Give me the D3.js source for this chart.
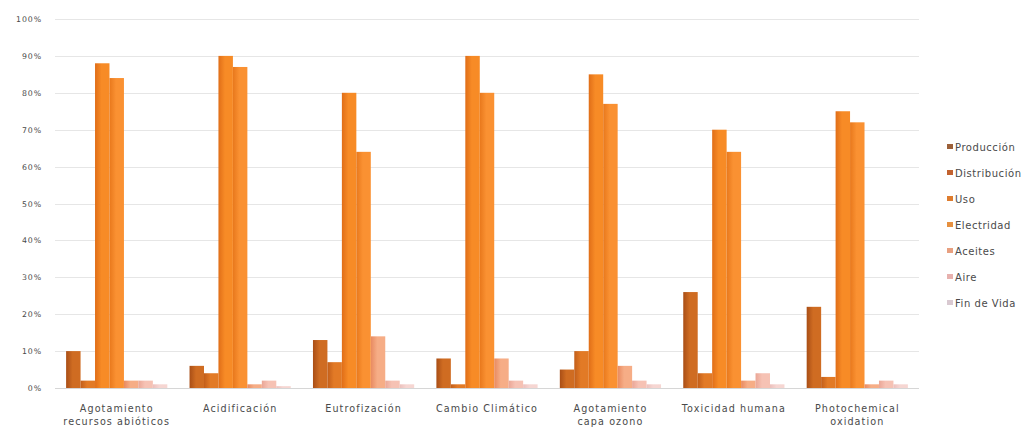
<!DOCTYPE html>
<html>
<head>
<meta charset="utf-8">
<script src="https://cdn.jsdelivr.net/npm/d3@7"></script>
<style>
  html, body { margin: 0; padding: 0; background: #ffffff; }
  svg { display: block; }
  text { font-family: "DejaVu Sans", sans-serif; fill: #4a4a4a; }
</style>
</head>
<body>
<svg id="chart" width="1032" height="436"></svg>
<script>
// Impact categories (x axis), with line breaks for the two-line labels
const categories = [
  "Agotamiento\nrecursos abióticos",
  "Acidificación",
  "Eutrofización",
  "Cambio Climático",
  "Agotamiento\ncapa ozono",
  "Toxicidad humana",
  "Photochemical\noxidation"
];

// Life-cycle stages (series)
const seriesNames = ["Producción", "Distribución", "Uso", "Electridad", "Aceites", "Aire", "Fin de Vida"];

// Share of each impact per stage, in percent
const produccion   = [10,  6, 13,  8,  5, 26, 22];
const distribucion = [ 2,  4,  7,  1, 10,  4,  3];
const uso          = [88, 90, 80, 90, 85, 70, 75];
const electridad   = [84, 87, 64, 80, 77, 64, 72];
const aceites      = [ 2,  1, 14,  8,  6,  2,  1];
const aire         = [ 2,  2,  2,  2,  2,  4,  2];
const finDeVida    = [ 1,  0.5, 1, 1,  1,  1,  1];

const yTicks = [0, 10, 20, 30, 40, 50, 60, 70, 80, 90, 100];

const seriesValues = [produccion, distribucion, uso, electridad, aceites, aire, finDeVida];

// Fill tones per stage: dark edge, light centre
const barTones = [
  ["#a94e16", "#cf6c22"],
  ["#c25e1a", "#e27a26"],
  ["#e06e18", "#f78b26"],
  ["#e8781c", "#fa9132"],
  ["#e88a60", "#f6ad86"],
  ["#eaa696", "#f6c2b4"],
  ["#ecc0bc", "#f6d6d2"]
];
const legendColors = ["#9c6039", "#c2622f", "#de7c2e", "#e6903f", "#e8a080", "#e7b1ae", "#d9c9d1"];

const svg = d3.select("#chart");
const margin = { left: 55, right: 113, top: 19, bottom: 48 };
const width = 1032, height = 436;
const plotW = width - margin.left - margin.right;
const plotH = height - margin.top - margin.bottom;

const defs = svg.append("defs");
barTones.forEach((t, i) => {
  const g = defs.append("linearGradient")
    .attr("id", "grad" + i)
    .attr("x1", "0%").attr("x2", "100%").attr("y1", "0%").attr("y2", "0%");
  g.append("stop").attr("offset", "0%").attr("stop-color", t[0]);
  g.append("stop").attr("offset", "45%").attr("stop-color", t[1]);
  g.append("stop").attr("offset", "100%").attr("stop-color", t[1]);
});

const x0 = d3.scaleBand()
  .domain(categories)
  .range([0, plotW])
  .paddingInner(0.18)
  .paddingOuter(0.09);

const x1 = d3.scaleBand()
  .domain(seriesNames)
  .range([0, x0.bandwidth()]);

const y = d3.scaleLinear().domain([0, 100]).range([plotH, 0]);

const g = svg.append("g").attr("transform", `translate(${margin.left},${margin.top})`);

// Horizontal gridlines
g.append("g")
  .selectAll("line")
  .data(yTicks)
  .join("line")
  .attr("x1", 0)
  .attr("x2", plotW)
  .attr("y1", d => Math.round(y(d)) + 0.5)
  .attr("y2", d => Math.round(y(d)) + 0.5)
  .attr("stroke", d => d === 0 ? "#d6d6d6" : "#e6e6e6")
  .attr("stroke-width", 1);

// Y axis labels
const yAxis = d3.axisLeft(y)
  .tickValues(yTicks)
  .tickFormat(d => d + "%")
  .tickSize(0)
  .tickPadding(13);
const yAxisG = g.append("g").call(yAxis);
yAxisG.select(".domain").remove();
yAxisG.selectAll("text")
  .style("font-family", "DejaVu Sans, sans-serif")
  .style("font-size", "7.8px")
  .style("letter-spacing", "0.9px")
  .attr("fill", "#5a5a5a");

// Bars
const groups = g.append("g")
  .selectAll("g")
  .data(categories)
  .join("g")
  .attr("transform", d => `translate(${x0(d)},0)`);

groups.selectAll("rect")
  .data((c, ci) => seriesNames.map((s, si) => ({ s, si, v: seriesValues[si][ci] })))
  .join("rect")
  .attr("x", d => x1(d.s))
  .attr("width", x1.bandwidth())
  .attr("y", d => y(d.v))
  .attr("height", d => y(0) - y(d.v))
  .attr("fill", d => `url(#grad${d.si})`);

// X axis category labels
const xAxis = d3.axisBottom(x0).tickSize(0).tickPadding(0);
const xAxisG = g.append("g")
  .attr("transform", `translate(0,${plotH})`)
  .call(xAxis);
xAxisG.select(".domain").remove();
xAxisG.selectAll(".tick text").each(function (d) {
  const t = d3.select(this);
  t.text(null)
    .attr("y", 0)
    .attr("dy", null)
    .style("font-family", "DejaVu Sans, sans-serif")
    .style("font-size", "9.6px")
    .style("letter-spacing", "1.1px")
    .attr("fill", "#4a4a4a");
  d.split("\n").forEach((line, i) => {
    t.append("tspan")
      .attr("x", 0)
      .attr("y", 24 + i * 13)
      .text(line);
  });
});

// Legend
const legend = svg.append("g").attr("transform", "translate(947,147)");
const items = legend.selectAll("g")
  .data(seriesNames)
  .join("g")
  .attr("transform", (d, i) => `translate(0,${i * 26})`);
items.append("rect")
  .attr("x", 0)
  .attr("y", -3)
  .attr("width", 6)
  .attr("height", 5)
  .attr("fill", (d, i) => legendColors[i]);
items.append("text")
  .attr("x", 8)
  .attr("y", 0)
  .attr("dy", "0.35em")
  .style("font-size", "10px")
  .style("letter-spacing", "0.55px")
  .attr("fill", "#4a4a4a")
  .text(d => d);
</script>
</body>
</html>
